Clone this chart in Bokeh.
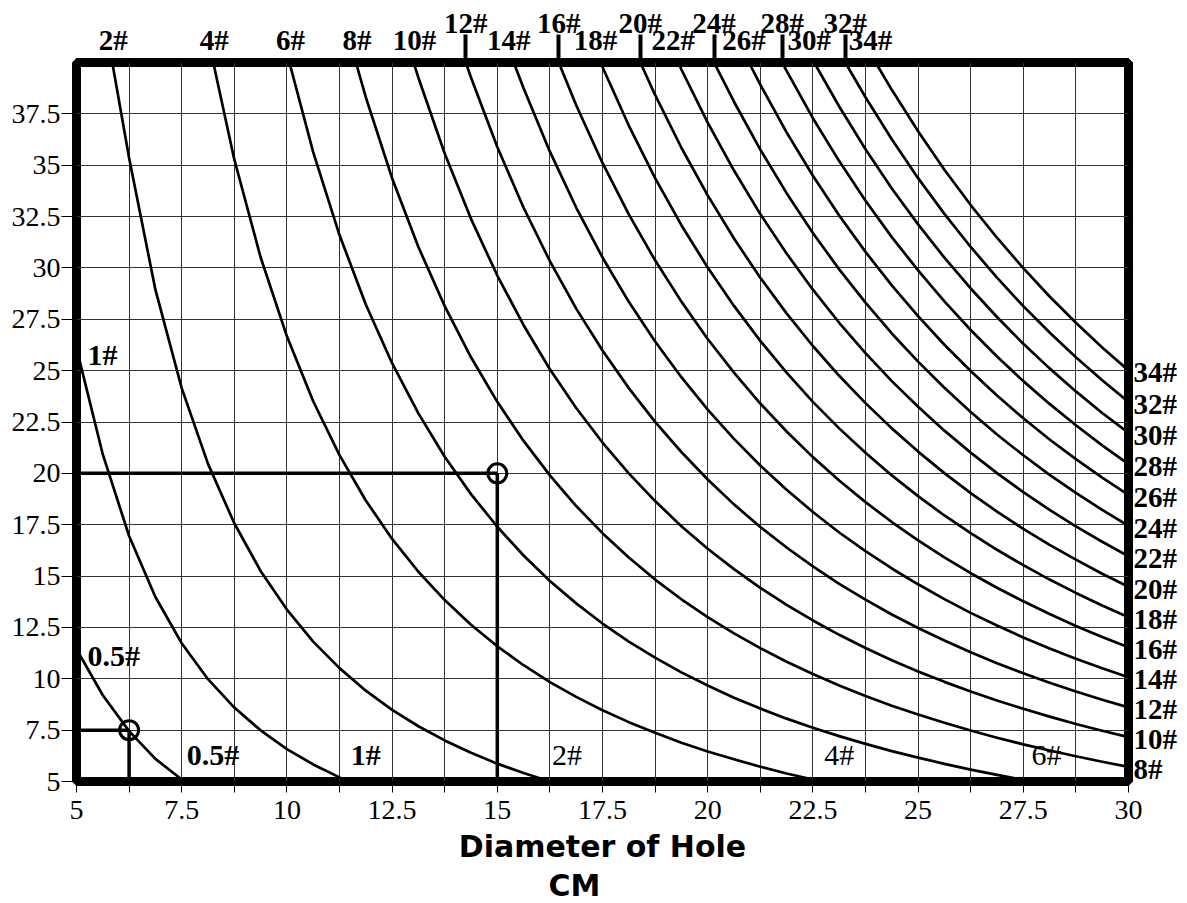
from bokeh.plotting import figure
from bokeh.models import Range1d, FixedTicker, LinearAxis
from bokeh.core.properties import value
from bokeh.embed import file_html
from bokeh.resources import INLINE

# ---------------- axis data ----------------
x_ticks = [5, 7.5, 10, 12.5, 15, 17.5, 20, 22.5, 25, 27.5, 30]
x_tick_labels = ["5", "7.5", "10", "12.5", "15", "17.5", "20", "22.5", "25", "27.5", "30"]
x_minor_ticks = [6.25, 8.75, 11.25, 13.75, 16.25, 18.75, 21.25, 23.75, 26.25, 28.75]
y_ticks = [5, 7.5, 10, 12.5, 15, 17.5, 20, 22.5, 25, 27.5, 30, 32.5, 35, 37.5]
y_tick_labels = ["5", "7.5", "10", "12.5", "15", "17.5", "20", "22.5", "25", "27.5",
                 "30", "32.5", "35", "37.5"]
y_grid_lines = [5, 7.5, 10, 12.5, 15, 17.5, 20, 22.5, 25, 27.5, 30, 32.5, 35, 37.5, 40]
x_title = "Diameter of Hole"
x_unit = "CM"

# x positions at which the curves were read (every half grid step)
x_read = [5.0, 5.625, 6.25, 6.875, 7.5, 8.125, 8.75, 9.375, 10.0, 10.625,
          11.25, 11.875, 12.5, 13.125, 13.75, 14.375, 15.0, 15.625, 16.25, 16.875,
          17.5, 18.125, 18.75, 19.375, 20.0, 20.625, 21.25, 21.875, 22.5, 23.125,
          23.75, 24.375, 25.0, 25.625, 26.25, 26.875, 27.5, 28.125, 28.75, 29.375, 30.0]

# ---------------- curve readings ----------------
c05_x = x_read[0:5] + [7.57]
c05_y = [11.44, 9.2, 7.45, 6.1, 5.1, 5.0]

c1_x = x_read[0:11] + [11.47]
c1_y = [26.1, 20.92, 16.95, 13.98, 11.73, 9.98, 8.60, 7.49, 6.58, 5.83, 5.20, 5.0]

c2_x = [5.85] + x_read[2:19]
c2_y = [40, 35.35, 28.94, 24.15, 20.46, 17.57, 15.25, 13.37, 11.81, 10.52, 9.42,
        8.49, 7.69, 7.00, 6.40, 5.87, 5.41, 5.00]

c4_x = [8.25] + x_read[6:29] + [22.72]
c4_y = [40, 35.28, 30.52, 26.67, 23.51, 20.89, 18.68, 16.81, 15.21, 13.83, 12.63,
        11.58, 10.66, 9.84, 9.12, 8.47, 7.89, 7.37, 6.89, 6.46, 6.08,
        5.72, 5.39, 5.10, 5.0]

c6_x = [10.06] + x_read[9:37] + [27.65]
c6_y = [40, 35.64, 31.60, 28.22, 25.36, 22.92, 20.81, 18.99, 17.40, 16.00, 14.76,
        13.67, 12.69, 11.81, 11.03, 10.31, 9.67, 9.08, 8.55, 8.06, 7.62,
        7.21, 6.83, 6.48, 6.16, 5.86, 5.58, 5.32, 5.08, 5.0]

c8_x = [11.64] + x_read[11:41]
c8_y = [40, 38.31, 34.37, 31.02, 28.14, 25.65, 23.48, 21.58, 19.90, 18.41, 17.09,
        15.90, 14.83, 13.87, 13.00, 12.21, 11.49, 10.83, 10.23, 9.67, 9.16,
        8.69, 8.26, 7.86, 7.48, 7.13, 6.81, 6.51, 6.23, 5.96, 5.71]

c10_x = [13.01] + x_read[13:41]
c10_y = [40, 39.26, 35.57, 32.39, 29.63, 27.21, 25.07, 23.18, 21.50, 20.00, 18.65,
         17.43, 16.33, 15.34, 14.43, 13.60, 12.84, 12.14, 11.50, 10.90, 10.36,
         9.85, 9.38, 8.94, 8.54, 8.16, 7.80, 7.47, 7.16]

c12_x = [14.25] + x_read[15:41]
c12_y = [40, 39.27, 35.89, 32.93, 30.33, 28.02, 25.98, 24.15, 22.51, 21.04, 19.70,
         18.49, 17.39, 16.39, 15.47, 14.62, 13.85, 13.13, 12.47, 11.86, 11.29,
         10.76, 10.27, 9.81, 9.38, 8.98, 8.61]

c14_x = [15.39] + x_read[17:41]
c14_y = [40, 38.75, 35.66, 32.94, 30.51, 28.35, 26.42, 24.68, 23.10, 21.68, 20.38,
         19.20, 18.12, 17.12, 16.21, 15.37, 14.60, 13.88, 13.21, 12.59, 12.01,
         11.48, 10.98, 10.51, 10.07]

c16_x = [16.46] + x_read[19:41]
c16_y = [40, 37.92, 35.11, 32.61, 30.37, 28.36, 26.54, 24.90, 23.40, 22.04, 20.79,
         19.65, 18.60, 17.63, 16.74, 15.91, 15.14, 14.43, 13.77, 13.15, 12.57,
         12.03, 11.53]

c18_x = [17.45] + x_read[20:41]
c18_y = [40, 39.78, 36.93, 34.37, 32.08, 30.02, 28.15, 26.45, 24.90, 23.48, 22.19,
         21.00, 19.90, 18.89, 17.95, 17.09, 16.28, 15.53, 14.83, 14.18, 13.57, 13.00]

c20_x = [18.40] + x_read[22:41]
c20_y = [40, 38.42, 35.85, 33.53, 31.43, 29.52, 27.79, 26.20, 24.75, 23.42, 22.19,
         21.06, 20.01, 19.04, 18.14, 17.30, 16.52, 15.80, 15.11, 14.48]

c22_x = [19.30] + x_read[23:41]
c22_y = [40, 39.66, 37.07, 34.74, 32.62, 30.70, 28.94, 27.33, 25.85, 24.49, 23.24,
         22.08, 21.01, 20.01, 19.09, 18.22, 17.42, 16.67, 15.96]

c24_x = [20.15] + x_read[25:41]
c24_y = [40, 38.09, 35.76, 33.64, 31.70, 29.93, 28.31, 26.81, 25.44, 24.17, 22.99,
         21.89, 20.88, 19.93, 19.05, 18.22, 17.45]

c26_x = [20.98] + x_read[26:41]
c26_y = [40, 38.92, 36.60, 34.49, 32.55, 30.78, 29.15, 27.65, 26.26, 24.98, 23.79,
         22.68, 21.65, 20.69, 19.79, 18.95]

c28_x = [21.77] + x_read[27:41]
c28_y = [40, 39.59, 37.29, 35.20, 33.27, 31.50, 29.88, 28.37, 26.98, 25.69, 24.49,
         23.38, 22.34, 21.36, 20.45]

c30_x = [22.53] + x_read[29:41]
c30_y = [40, 37.86, 35.78, 33.87, 32.12, 30.50, 29.00, 27.61, 26.31, 25.11, 23.99,
         22.94, 21.97]

c32_x = [23.27] + x_read[30:41]
c32_y = [40, 38.31, 36.26, 34.37, 32.63, 31.02, 29.53, 28.14, 26.86, 25.65, 24.53, 23.48]

c34_x = [23.99] + x_read[31:41]
c34_y = [40, 38.67, 36.65, 34.78, 33.06, 31.47, 29.99, 28.61, 27.33, 26.13, 25.01]

curve_names = ["0.5#", "1#", "2#", "4#", "6#", "8#", "10#", "12#", "14#", "16#", "18#",
               "20#", "22#", "24#", "26#", "28#", "30#", "32#", "34#"]
curve_xs = [c05_x, c1_x, c2_x, c4_x, c6_x, c8_x, c10_x, c12_x, c14_x, c16_x, c18_x,
            c20_x, c22_x, c24_x, c26_x, c28_x, c30_x, c32_x, c34_x]
curve_ys = [c05_y, c1_y, c2_y, c4_y, c6_y, c8_y, c10_y, c12_y, c14_y, c16_y, c18_y,
            c20_y, c22_y, c24_y, c26_y, c28_y, c30_y, c32_y, c34_y]

# worked examples (diameter, depth)
example_x = [6.25, 15]
example_y = [7.5, 20]

# label groups
left_labelled = ["0.5#", "1#"]
bottom_bold = ["0.5#", "1#"]
bottom_plain = ["2#", "4#", "6#"]
top_low = ["2#", "4#", "6#", "8#", "10#", "14#", "18#", "22#", "26#", "30#", "34#"]
top_high = ["12#", "16#", "20#", "24#", "28#", "32#"]
right_labelled = ["8#", "10#", "12#", "14#", "16#", "18#", "20#", "22#", "24#", "26#",
                  "28#", "30#", "32#", "34#"]

# ---------------- layout ----------------
X0, X1, Y0, Y1 = 5, 30, 5, 40
FW, FH = 1052, 719
PXX = FW / (X1 - X0)        # pixels per x unit
PXY = FH / (Y1 - Y0)        # pixels per y unit
SERIF = "Liberation Serif"
TITLE_FONT = "DejaVu Sans"
LBL_SIZE = "29px"

p = figure(frame_width=FW, frame_height=FH, title=None,
           x_range=Range1d(X0, X1), y_range=Range1d(Y0, Y1),
           min_border_left=76, min_border_right=59, min_border_top=62, min_border_bottom=122,
           output_backend="svg", toolbar_location=None,
           background_fill_color="white", border_fill_color="white")

p.outline_line_color = "black"
p.outline_line_width = 9
p.outline_line_alpha = 1.0

# bottom axis: tick values + title
xa = p.xaxis[0]
xa.ticker = FixedTicker(ticks=x_ticks, minor_ticks=x_minor_ticks)
xa.major_label_overrides = dict(zip(x_ticks, x_tick_labels))
xa.axis_line_color = None
xa.major_tick_out = 11
xa.major_tick_in = 0
xa.minor_tick_out = 11
xa.minor_tick_in = 0
xa.major_tick_line_color = "black"
xa.minor_tick_line_color = "black"
xa.major_label_text_font = SERIF
xa.major_label_text_font_size = "28px"
xa.major_label_text_color = "black"
xa.major_label_standoff = 8
xa.axis_label = x_title
xa.axis_label_text_font = TITLE_FONT
xa.axis_label_text_font_style = "bold"
xa.axis_label_text_font_size = "30px"
xa.axis_label_text_color = "black"
xa.axis_label_standoff = 7

# second bottom axis carrying the unit
unit_x = [X0 + (X1 - X0) / 2 - 28 / PXX]
ua = LinearAxis(ticker=FixedTicker(ticks=unit_x, minor_ticks=[]))
ua.major_label_overrides = dict(zip(unit_x, [x_unit]))
ua.axis_line_color = None
ua.major_tick_line_color = None
ua.minor_tick_line_color = None
ua.major_tick_out = 0
ua.major_tick_in = 0
ua.major_label_text_font = TITLE_FONT
ua.major_label_text_font_style = "bold"
ua.major_label_text_font_size = "30px"
ua.major_label_text_color = "black"
ua.major_label_standoff = 1
p.add_layout(ua, "below")

# left axis
ya = p.yaxis[0]
ya.ticker = FixedTicker(ticks=y_ticks, minor_ticks=[])
ya.major_label_overrides = dict(zip(y_ticks, y_tick_labels))
ya.axis_line_color = None
ya.major_tick_out = 15
ya.major_tick_in = 0
ya.minor_tick_line_color = None
ya.major_tick_line_color = "black"
ya.major_label_text_font = SERIF
ya.major_label_text_font_size = "28px"
ya.major_label_text_color = "black"
ya.major_label_standoff = 1

# grid
p.xgrid.grid_line_color = "#333333"
p.xgrid.grid_line_width = 1
p.xgrid.minor_grid_line_color = "#333333"
p.xgrid.minor_grid_line_width = 1
p.ygrid.ticker = FixedTicker(ticks=y_grid_lines)
p.ygrid.grid_line_color = "#333333"
p.ygrid.grid_line_width = 1

# curves
for cx, cy in zip(curve_xs, curve_ys):
    assert len(cx) == len(cy)
    p.line(cx, cy, line_color="black", line_width=2.7, line_join="round")

# worked-example lines and circles
p.segment(x0=[X0] * len(example_x), y0=example_y, x1=example_x, y1=example_y,
          line_color="black", line_width=3.5)
p.segment(x0=example_x, y0=[Y0] * len(example_x), x1=example_x, y1=example_y,
          line_color="black", line_width=3.5)
p.scatter(example_x, example_y, marker="circle", size=19, fill_color=None,
          line_color="black", line_width=3)

idx = {n: i for i, n in enumerate(curve_names)}

# ---------------- labels inside the frame ----------------
lx = [curve_xs[idx[n]][0] for n in left_labelled]
ly = [curve_ys[idx[n]][0] - 6 / PXY for n in left_labelled]
p.text(x=lx, y=ly, text=left_labelled, x_offset=11,
       text_font=value(SERIF), text_font_style="bold", text_font_size="30px",
       text_color="black", text_align="left", text_baseline="middle")

for names, style in ((bottom_bold, "bold"), (bottom_plain, "normal")):
    bx = [curve_xs[idx[n]][-1] for n in names]
    by = [Y0 + 27 / PXY for n in names]
    p.text(x=bx, y=by, text=names, x_offset=2,
           text_font=value(SERIF), text_font_style=style, text_font_size="30px",
           text_color="black", text_align="left", text_baseline="middle")

# ---------------- labels outside the frame (as extra axes) ----------------
def label_axis(ticks, names, standoff, minor=None):
    ax = LinearAxis(ticker=FixedTicker(ticks=ticks, minor_ticks=minor or []))
    ax.major_label_overrides = dict(zip(ticks, names))
    ax.axis_line_color = None
    ax.major_tick_line_color = None
    ax.major_tick_out = 0
    ax.major_tick_in = 0
    ax.major_label_text_font = SERIF
    ax.major_label_text_font_style = "bold"
    ax.major_label_text_font_size = LBL_SIZE
    ax.major_label_text_color = "black"
    ax.major_label_standoff = standoff
    if minor:
        # leader lines of the upper row are drawn as minor ticks
        ax.minor_tick_line_color = "black"
        ax.minor_tick_line_width = 4
        ax.minor_tick_out = 28
        ax.minor_tick_in = 0
    else:
        ax.minor_tick_line_color = None
    return ax

low_x = [round(curve_xs[idx[n]][0] + (-5 if curve_xs[idx[n]][0] > 14 else 1) / PXX, 4)
         for n in top_low]
high_x = [round(curve_xs[idx[n]][0], 4) for n in top_high]
p.add_layout(label_axis(low_x, top_low, -21, minor=high_x), "above")
p.add_layout(label_axis(high_x, top_high, -18), "above")

right_y = [round(curve_ys[idx[n]][-1] - 2 / PXY, 4) for n in right_labelled]
p.add_layout(label_axis(right_y, right_labelled, 5), "right")

open("out.html", "w").write(file_html(p, INLINE))
